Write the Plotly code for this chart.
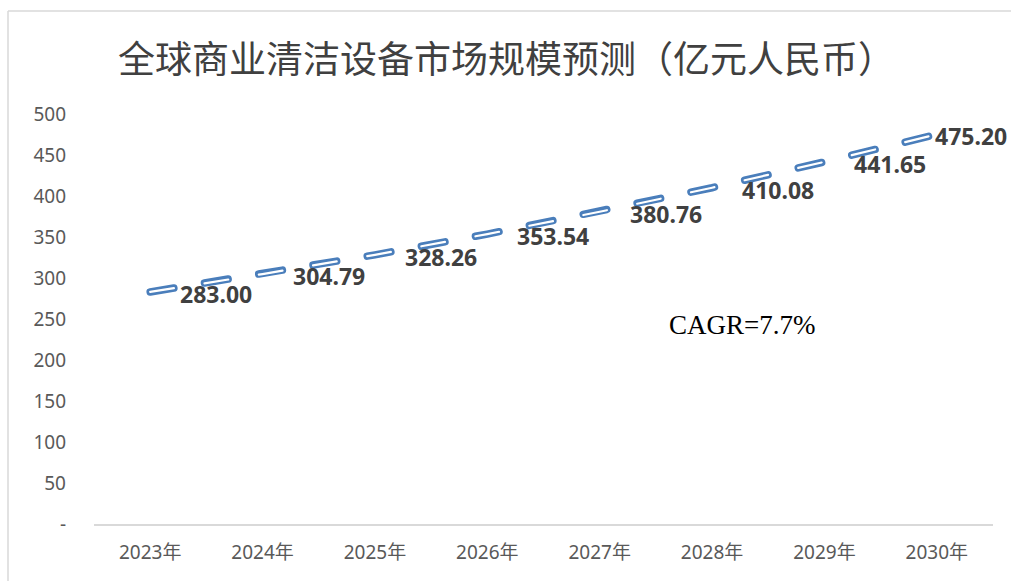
import plotly.graph_objects as go

years = ["2023年", "2024年", "2025年", "2026年", "2027年", "2028年", "2029年", "2030年"]
market_size = [283.00, 304.79, 328.26, 353.54, 380.76, 410.08, 441.65, 475.20]
y_tick_vals = [0, 50, 100, 150, 200, 250, 300, 350, 400, 450, 500]
y_tick_text = ["-", "50", "100", "150", "200", "250", "300", "350", "400", "450", "500"]
title_text = "全球商业清洁设备市场规模预测（亿元人民币）"
cagr_text = "CAGR=7.7%"

W, H = 1011, 581
L, R, T, B = 94, 18, 114, 57
pw = W - L - R
ph = H - T - B


def px_x(p):
    return (p - L) / pw


def px_y(p):
    return (H - B - p) / ph


fig = go.Figure()
fig.add_trace(go.Scatter(
    x=years, y=market_size, mode="lines",
    line=dict(color="#4A7EBB", width=7.5, dash="24px,31px"),
    hoverinfo="skip", showlegend=False,
))
fig.add_trace(go.Scatter(
    x=years, y=market_size, mode="lines",
    line=dict(color="#FFFFFF", width=2.2, dash="24px,31px"),
    hoverinfo="skip", showlegend=False,
))

annotations = []
n = len(years)
for i, (yr, v) in enumerate(zip(years, market_size)):
    annotations.append(dict(
        x=yr, y=v, xref="x", yref="y", text=f"{v:.2f}", showarrow=False,
        xanchor="left", yanchor="middle",
        xshift=28 if i < n - 1 else -4, yshift=-2,
        font=dict(family="Noto Sans", size=23, color="#404040", weight="bold"),
    ))
annotations.append(dict(
    x=px_x(506), y=px_y(57), xref="paper", yref="paper", text=title_text,
    showarrow=False, xanchor="center", yanchor="middle",
    font=dict(family="Noto Sans CJK SC", size=37, color="#404040"),
))
annotations.append(dict(
    x=px_x(742), y=px_y(325), xref="paper", yref="paper", text=cagr_text,
    showarrow=False, xanchor="center", yanchor="middle",
    font=dict(family="Liberation Serif", size=27, color="#000000"),
))

shapes = [
    dict(type="line", xref="paper", yref="paper",
         x0=px_x(8), x1=px_x(W + 5), y0=px_y(11), y1=px_y(11),
         line=dict(color="#D9D9D9", width=1.5)),
    dict(type="line", xref="paper", yref="paper",
         x0=px_x(8), x1=px_x(8), y0=px_y(11), y1=px_y(H + 5),
         line=dict(color="#D9D9D9", width=1.5)),
]

fig.update_layout(
    width=W, height=H,
    margin=dict(l=L, r=R, t=T, b=B),
    paper_bgcolor="white", plot_bgcolor="white",
    annotations=annotations, shapes=shapes,
    xaxis=dict(
        type="category", range=[-0.5, 7.5], showgrid=False, zeroline=False,
        showline=True, linecolor="#D9D9D9", linewidth=1.5, ticks="",
        tickfont=dict(family="Noto Sans, Noto Sans CJK SC", size=19, color="#595959"),
        ticklabelstandoff=10,
    ),
    yaxis=dict(
        range=[0, 500], tickvals=y_tick_vals, ticktext=y_tick_text,
        showgrid=False, zeroline=False, showline=False, ticks="",
        tickfont=dict(family="Noto Sans", size=19, color="#595959"),
        ticklabelstandoff=27,
    ),
)

post = (
    "document.body.style.margin='0';"
    "document.body.style.overflow='hidden';"
    "document.querySelectorAll('.scatterlayer .js-line').forEach(function(p){"
    "p.style.strokeLinecap='round';});"
)

fig.write_html("out.html", post_script=post, config={"displayModeBar": False})
